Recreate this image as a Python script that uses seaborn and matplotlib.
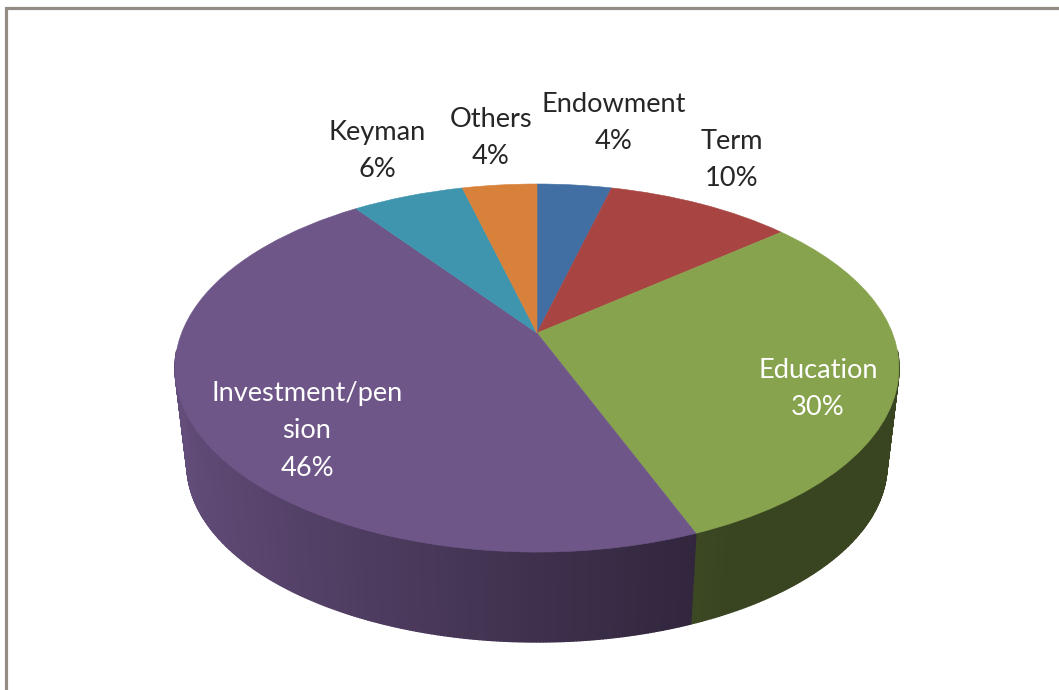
import matplotlib
matplotlib.use('Agg')

import numpy as np
import seaborn as sns
import matplotlib.pyplot as plt
from matplotlib.colors import to_rgb
from matplotlib.transforms import Transform

# data, clockwise from 12 o'clock
categories = ['Endowment', 'Term', 'Education', 'Investment/pen\nsion', 'Keyman', 'Others']
values = [4, 10, 30, 46, 6, 4]
colors = ['#416fa3', '#a84543', '#88a34e', '#6f5689', '#3f95ad', '#d8813a']

# label placement in pixels and text colour
label_x = [614, 732, 818, 307, 377, 491]
label_y = [123, 160, 389, 431, 151, 138]
label_colors = ['#262626', '#262626', 'white', 'white', '#262626', '#262626']

sns.set_theme(style='white')
plt.rcParams['font.family'] = ['Lato', 'DejaVu Sans']


class Tilted(Transform):
    # perspective view of the unit circle, the pie centre moves up by tilt
    input_dims = 2
    output_dims = 2

    def __init__(self, cx, cy, rx, ry, tilt):
        super().__init__()
        self.cx, self.cy, self.rx, self.ry, self.tilt = cx, cy, rx, ry, tilt

    def transform_non_affine(self, values):
        pts = np.asarray(values, dtype=float)
        w = 1 + self.tilt * pts[:, 1]
        px = pts[:, 0] * np.sqrt(1 - self.tilt ** 2) / w
        py = (pts[:, 1] + self.tilt) / w
        return np.column_stack([self.cx + self.rx * px, self.cy - self.ry * py])


top = Tilted(537, 368, 362, 184, 0.19)
bottom = Tilted(537, 465, 350, 177, 0.19)

fig = plt.figure(figsize=(10.59, 6.90), dpi=100)
ax = fig.add_axes([0, 0, 1, 1])

# side wall, thin strips shaded from left to right (back half is hidden anyway)
edges = np.cumsum([0] + values) / sum(values) * 2 * np.pi
for i, base in enumerate(colors):
    base = np.array(to_rgb(base))
    th = np.linspace(edges[i], edges[i + 1], max(values[i] * 8, 2))
    unit = np.column_stack([np.sin(th), np.cos(th)])
    up = top.transform(unit)
    down = bottom.transform(unit)
    for k in range(len(th) - 1):
        if unit[k, 1] > -0.1 and unit[k + 1, 1] > -0.1:
            continue
        shade = np.clip(0.9 - (unit[k, 0] + 1) * 0.48 / 1.45, 0.42, 0.9)
        xs = [up[k, 0], up[k + 1, 0], down[k + 1, 0], down[k, 0]]
        ys = [up[k, 1], up[k + 1, 1], down[k + 1, 1], down[k, 1]]
        ax.fill(xs, ys, color=base * shade, linewidth=1.0, zorder=2)

# top face
wedges, _ = ax.pie(values, colors=colors, startangle=90, counterclock=False)
for w, c in zip(wedges, colors):
    w.set_transform(top + ax.transData)
    w.set_edgecolor(c)
    w.set_linewidth(0.4)
    w.set_zorder(3)
    w.set_clip_on(False)

ax.set_aspect('auto')
ax.set_xlim(0, 1059)
ax.set_ylim(690, 0)
ax.axis('off')

# labels
for name, v, x, y, c in zip(categories, values, label_x, label_y, label_colors):
    ax.text(x, y, f'{name}\n{v}%', ha='center', va='center', color=c,
            fontsize=19.6, linespacing=1.63, zorder=4)

# picture frame, top and left only
ax.plot([6.3, 6.3, 1059], [690, 8.3, 8.3], color='#938c85', lw=2.3, zorder=5,
        solid_joinstyle='miter')

fig.savefig('out.png', dpi=100)
